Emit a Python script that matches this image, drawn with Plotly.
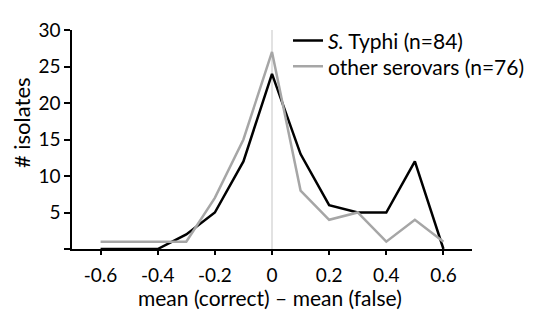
import plotly.graph_objects as go

x_vals = [-0.6, -0.5, -0.4, -0.3, -0.2, -0.1, 0.0, 0.1, 0.2, 0.3, 0.4, 0.5, 0.6]
typhi = [0, 0, 0, 2, 5, 12, 24, 13, 6, 5, 5, 12, 0]
other = [1, 1, 1, 1, 7, 15, 27, 8, 4, 5, 1, 4, 1]

x_tickvals = [-0.6, -0.4, -0.2, 0, 0.2, 0.4, 0.6]
x_ticktext = ["-0.6", "-0.4", "-0.2", "0", "0.2", "0.4", "0.6"]
y_tickvals = [0, 5, 10, 15, 20, 25, 30]
y_ticktext = ["", "5", "10", "15", "20", "25", "30"]

FONT = "Lato, Carlito, Calibri, sans-serif"

fig = go.Figure()
fig.add_trace(go.Scatter(x=x_vals, y=typhi, mode="lines", name="<i>S.</i> Typhi (n=84)",
                         line=dict(color="#000000", width=2.5), legend="legend"))
fig.add_trace(go.Scatter(x=x_vals, y=other, mode="lines", name="other serovars (n=76)",
                         line=dict(color="#a6a6a6", width=2.5), legend="legend2"))

fig.add_shape(type="line", xref="x", yref="y", x0=0, x1=0, y0=0, y1=30,
              line=dict(color="#d9d9d9", width=1.5), layer="below")

fig.add_annotation(text="# isolates", xref="paper", yref="paper", x=-0.1275, y=0.575,
                   textangle=-90, showarrow=False, font=dict(size=22),
                   xanchor="center", yanchor="middle")
fig.add_annotation(text="mean (correct) – mean (false)", xref="paper", yref="paper",
                   x=0.495, y=-0.22, showarrow=False, font=dict(size=21),
                   xanchor="center", yanchor="middle")

legend_style = dict(xanchor="left", yanchor="top", bgcolor="rgba(0,0,0,0)",
                    font=dict(size=21), itemwidth=30)

fig.update_layout(
    width=535, height=311,
    margin=dict(l=64, r=71, t=13, b=70),
    paper_bgcolor="white", plot_bgcolor="white",
    font=dict(family=FONT, size=19, color="#000000"),
    showlegend=True,
    legend=dict(x=0.54, y=1.044, **legend_style),
    legend2=dict(x=0.54, y=0.926, **legend_style),
)
fig.update_xaxes(range=[-0.7, 0.7], tickvals=x_tickvals, ticktext=x_ticktext,
                 showline=True, linecolor="#000000", linewidth=1.5,
                 ticks="outside", ticklen=4, tickwidth=1.5, tickcolor="#000000",
                 showgrid=False, zeroline=False, ticklabelstandoff=4, automargin=False)
fig.update_yaxes(range=[0, 30], tickvals=y_tickvals, ticktext=y_ticktext,
                 showline=True, linecolor="#000000", linewidth=1.5,
                 ticks="outside", ticklen=6, tickwidth=1.5, tickcolor="#000000",
                 showgrid=False, zeroline=False, automargin=False)

fig.write_html("out.html")
